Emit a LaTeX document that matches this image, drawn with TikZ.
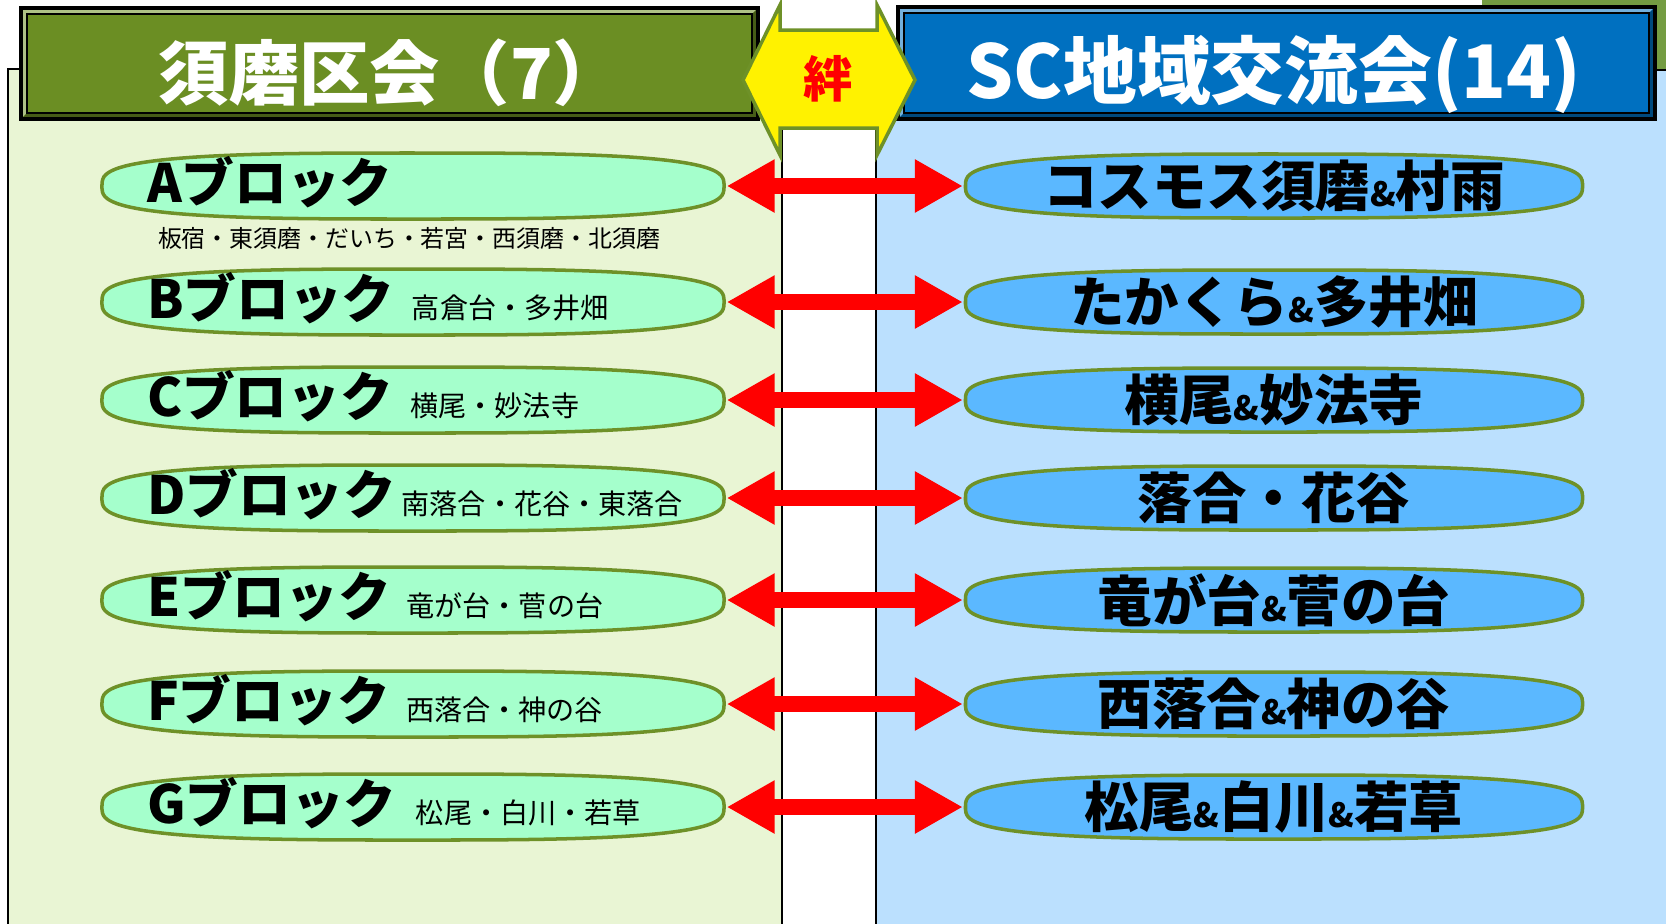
\documentclass[tikz,border=0pt]{standalone}
\usepackage{fontspec}
\setmainfont{Noto Sans CJK JP}
\usetikzlibrary{positioning,calc,arrows.meta}

\definecolor{leftpanel}{RGB}{233,245,212}
\definecolor{rightpanel}{RGB}{187,224,254}
\definecolor{suma}{RGB}{107,142,35}
\definecolor{scblue}{RGB}{0,112,192}
\definecolor{mint}{RGB}{165,255,204}
\definecolor{sky}{RGB}{91,184,255}
\definecolor{rim}{RGB}{110,145,40}
\definecolor{corner}{RGB}{116,156,66}

\newcommand{\andsign}{{\fontsize{9.5}{9.5}\selectfont\&}}
% header bar with a bevelled rim: corners x1,y1,x2,y2 and colour
\newcommand{\headbar}[5]{%
  \fill[#5] (#1,#2) rectangle (#3,#4);
  \fill[#5!55!white] (#1,#2) -- (#3,#2) -- ($(#3,#2)+(-0.06,-0.06)$) -- ($(#1,#2)+(0.06,-0.06)$)
    -- ($(#1,#4)+(0.06,0.06)$) -- (#1,#4) -- cycle;
  \fill[#5!65!black] (#1,#4) -- (#3,#4) -- (#3,#2) -- ($(#3,#2)+(-0.06,-0.06)$)
    -- ($(#3,#4)+(-0.06,0.06)$) -- ($(#1,#4)+(0.06,0.06)$) -- cycle;
  \draw[line width=0.5pt] ($(#1,#2)+(0.06,-0.06)$) rectangle ($(#3,#4)+(-0.06,0.06)$);
  \draw[line width=1.2pt] (#1,#2) rectangle (#3,#4);
}
% a fat ellipse (superellipse) of half axes #1, #2
\newcommand{\blobpath}[2]{plot[domain=1:358, samples=120, smooth cycle]
  ({#1*sign(cos(\x))*abs(cos(\x))^0.65}, {#2*sign(sin(\x))*abs(sin(\x))^0.65})}

\tikzset{
  headtext/.style={text=white, font=\bfseries\fontsize{20}{20}\selectfont, inner sep=0pt},
  kizuna/.style={text=red, font=\bfseries\fontsize{14}{14}\selectfont, inner sep=0pt},
  leftblk/.style={rectangle, minimum width=6.26cm, minimum height=0.70cm, inner sep=0pt,
    path picture={\filldraw[fill=mint, draw=rim, line width=1pt,
      shift={(path picture bounding box.center)}] \blobpath{3.11}{0.33};}},
  rightblk/.style={rectangle, minimum width=6.21cm, minimum height=0.68cm, inner sep=0pt,
    path picture={\filldraw[fill=sky, draw=rim, line width=1pt,
      shift={(path picture bounding box.center)}] \blobpath{3.085}{0.32};}},
  blkname/.style={font=\bfseries\fontsize{15}{15}\selectfont, inner sep=0pt, anchor=west},
  blksub/.style={font=\fontsize{8}{8}\selectfont, inner sep=0pt, anchor=base west},
  blksmall/.style={font=\fontsize{6.8}{7}\selectfont, inner sep=0pt},
  rightname/.style={font=\bfseries\fontsize{15.5}{16}\selectfont, inner sep=0pt},
  tie/.style={red, line width=1.6mm, {Triangle[length=4.8mm,width=5mm]}-{Triangle[length=4.8mm,width=5mm]}}
}

\begin{document}
\begin{tikzpicture}
\path[use as bounding box, clip] (0,0) rectangle (16.66,-9.23);
\fill[white] (0,0) rectangle (16.66,-9.23);

% panels
\fill[corner] (14.82,0.1) rectangle (16.8,-0.70);
\filldraw[fill=rightpanel, draw=black, line width=0.6pt] (8.76,-0.70) rectangle (16.9,-9.4);
\filldraw[fill=leftpanel, draw=black, line width=0.8pt] (0.08,-0.69) rectangle (7.82,-9.4);

% headers
\headbar{0.21}{-0.08}{7.58}{-1.19}{suma}
\headbar{8.98}{-0.07}{16.55}{-1.19}{scblue}
\node[headtext] (hsuma) at (3.91,-0.73) {須磨区会（7）};
\node[headtext, font=\bfseries\fontsize{21}{21}\selectfont] (hsc) at (12.74,-0.74) {SC地域交流会(14)};

% the bond between both sides
\filldraw[fill=yellow, draw=rim, line width=1pt, line join=miter]
  (7.43,-0.80) -- (7.80,-0.05) -- (7.80,-0.30) -- (8.77,-0.30) -- (8.77,-0.05) -- (9.15,-0.80)
  -- (8.77,-1.55) -- (8.77,-1.28) -- (7.80,-1.28) -- (7.80,-1.55) -- cycle;
\node[kizuna] (bond) at (8.28,-0.79) {絆};

% blocks of Suma ward
\node[leftblk] (bA) at (4.13,-1.86) {};
\node[leftblk] (bB) at (4.13,-3.02) {};
\node[leftblk] (bC) at (4.13,-4.00) {};
\node[leftblk] (bD) at (4.13,-4.98) {};
\node[leftblk] (bE) at (4.13,-6.00) {};
\node[leftblk] (bF) at (4.13,-7.04) {};
\node[leftblk] (bG) at (4.13,-8.07) {};

\node[blkname, right=0.47cm of bA.west, yshift=0.04cm] (nA) {Aブロック};
\node[blkname, right=0.47cm of bB.west, yshift=0.04cm] (nB) {Bブロック};
\node[blkname, right=0.47cm of bC.west, yshift=0.04cm] (nC) {Cブロック};
\node[blkname, right=0.47cm of bD.west, yshift=0.04cm] (nD) {Dブロック};
\node[blkname, right=0.47cm of bE.west, yshift=0.04cm] (nE) {Eブロック};
\node[blkname, right=0.47cm of bF.west, yshift=0.04cm] (nF) {Fブロック};
\node[blkname, right=0.47cm of bG.west, yshift=0.04cm] (nG) {Gブロック};

\node[blksmall] (sA) at (4.09,-2.38) {板宿・東須磨・だいち・若宮・西須磨・北須磨};
\node[right=0.16cm of nB.base east, blksub] (sB) {高倉台・多井畑};
\node[right=0.16cm of nC.base east, blksub] (sC) {横尾・妙法寺};
\node[right=0.04cm of nD.base east, blksub] (sD) {南落合・花谷・東落合};
\node[right=0.14cm of nE.base east, blksub] (sE) {竜が台・菅の台};
\node[right=0.15cm of nF.base east, blksub] (sF) {西落合・神の谷};
\node[right=0.18cm of nG.base east, blksub] (sG) {松尾・白川・若草};

% SC groups
\node[rightblk] (rA) at (12.74,-1.86) {};
\node[rightblk] (rB) at (12.74,-3.02) {};
\node[rightblk] (rC) at (12.74,-4.00) {};
\node[rightblk] (rD) at (12.74,-4.98) {};
\node[rightblk] (rE) at (12.74,-6.00) {};
\node[rightblk] (rF) at (12.74,-7.04) {};
\node[rightblk] (rG) at (12.74,-8.07) {};

\node[rightname] (tA) at (rA) {コスモス須磨\andsign 村雨};
\node[rightname] (tB) at (rB) {たかくら\andsign 多井畑};
\node[rightname] (tC) at (rC) {横尾\andsign 妙法寺};
\node[rightname] (tD) at (rD) {落合・花谷};
\node[rightname] (tE) at (rE) {竜が台\andsign 菅の台};
\node[rightname] (tF) at (rF) {西落合\andsign 神の谷};
\node[rightname] (tG) at (rG) {松尾\andsign 白川\andsign 若草};

\draw[tie] (bA) -- (rA);
\draw[tie] (bB) -- (rB);
\draw[tie] (bC) -- (rC);
\draw[tie] (bD) -- (rD);
\draw[tie] (bE) -- (rE);
\draw[tie] (bF) -- (rF);
\draw[tie] (bG) -- (rG);
\end{tikzpicture}
\end{document}
